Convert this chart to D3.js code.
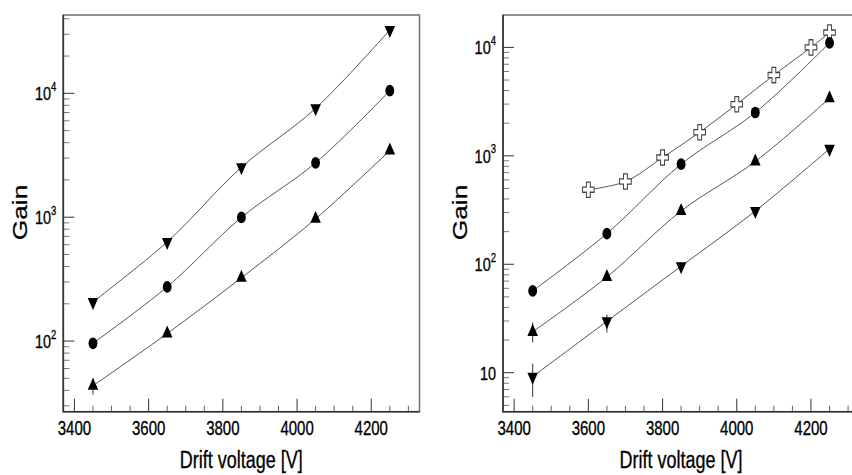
<!DOCTYPE html>
<html>
<head>
<meta charset="utf-8">
<script src="https://cdn.jsdelivr.net/npm/d3@7"></script>
<style>
body { margin: 0; background: #fff; }
svg { display: block; }
text { font-family: "Liberation Sans", Arial, sans-serif; fill: #000; stroke: #000; stroke-width: 0.25px; }
</style>
</head>
<body>
<div id="chart"></div>
<script>
// drift voltage of every scan point [V]
var voltages = [3450, 3650, 3850, 4050, 4250];
var crossVoltages = [3600, 3700, 3800, 3900, 4000, 4100, 4200, 4250];

// left panel gains
var leftDown = [207, 632, 2530, 7570, 32500];
var leftCircle = [96, 274, 995, 2750, 10500];
var leftUp = [43.6, 115, 324, 970, 3450];
var leftUpErr = [[37, 50], null, null, null, null];

// right panel gains
var rightCross = [487, 580, 965, 1650, 2990, 5560, 10000, 13700];
var rightCircle = [56.8, 192, 838, 2510, 11000];
var rightUp = [23.8, 76.4, 310, 887, 3400];
var rightUpErr = [[19, 29], [70, 83], null, null, null];
var rightDown = [9.2, 29.8, 96, 310, 1160];
var rightDownErr = [[6.0, 12.1], [23.4, 34.4], [89, 104], null, null];

var xDomain = [3370, 4330];
var xMajor = [3400, 3600, 3800, 4000, 4200];
var leftYDomain = [26.9, 42900];
var rightYDomain = [4.37, 19900];
var leftYLabels = [[100, "2"], [1000, "3"], [10000, "4"]];
var rightYLabels = [[10, ""], [100, "2"], [1000, "3"], [10000, "4"]];

var W = 852, H = 475;
var stretch = 1.32; // the picture is taller than wide, text looks stretched
var lineColor = "#555";
var frameColor = "#777";
var axisColor = "#333";

var svg = d3.select("#chart").append("svg").attr("width", W).attr("height", H);

function drawPanel(left, yDomain, yLabels, series) {
    var top = 15, bottom = 411.7, width = 356.2;
    var x = d3.scaleLinear().domain(xDomain).range([left, left + width]);
    var y = d3.scaleLog().domain(yDomain).range([bottom, top]);
    var g = svg.append("g");

    // x ticks, every 50 V, long ones every 200 V
    d3.range(3400, 4301, 50).forEach(function(v) {
        var major = xMajor.indexOf(v) >= 0;
        g.append("line").attr("x1", x(v)).attr("x2", x(v))
            .attr("y1", bottom).attr("y2", bottom - (major ? 13 : 6))
            .attr("stroke", major ? axisColor : "#666").attr("stroke-width", 1);
    });
    xMajor.forEach(function(v) {
        g.append("text")
            .attr("transform", "translate(" + x(v) + "," + 435 + ") scale(1," + stretch + ")")
            .attr("text-anchor", "middle")
            .attr("font-size", "15px")
            .text(v);
    });

    // y ticks, log decades
    var lo = Math.floor(Math.log10(yDomain[0])), hi = Math.ceil(Math.log10(yDomain[1]));
    for (var k = lo; k <= hi; k++) {
        for (var m = 1; m <= 9; m++) {
            var v = m * Math.pow(10, k);
            if (v < yDomain[0] || v > yDomain[1]) continue;
            g.append("line").attr("x1", left).attr("x2", left + (m == 1 ? 11 : 6))
                .attr("y1", y(v)).attr("y2", y(v))
                .attr("stroke", m == 1 ? axisColor : "#777").attr("stroke-width", 1);
        }
    }
    yLabels.forEach(function(d) {
        var t = g.append("text")
            .attr("transform", "translate(" + (left - 7) + "," + y(d[0]) + ") scale(1," + stretch + ")")
            .attr("text-anchor", "end")
            .attr("dy", "0.36em")
            .attr("font-size", "14.5px");
        t.append("tspan").text("10");
        if (d[1]) t.append("tspan").attr("font-size", "9.5px").attr("dy", "-0.75em").text(d[1]);
    });

    // frame: top and right in grey, axes darker
    g.append("rect").attr("x", left).attr("y", top)
        .attr("width", width).attr("height", bottom - top)
        .attr("fill", "none").attr("stroke", frameColor).attr("stroke-width", 1.6);
    g.append("path")
        .attr("d", "M" + left + "," + top + "V" + bottom + "H" + (left + width))
        .attr("fill", "none").attr("stroke", axisColor).attr("stroke-width", 1.6);

    // axis titles
    g.append("text")
        .attr("transform", "translate(" + (left + 178) + ",468) scale(1," + stretch + ")")
        .attr("text-anchor", "middle")
        .attr("font-size", "18px")
        .text("Drift voltage [V]");
    g.append("text")
        .attr("transform", "translate(" + (left - 36) + ",212.5) scale(1," + stretch + ") rotate(-90)")
        .attr("text-anchor", "middle")
        .attr("font-size", "20px")
        .attr("stroke-width", 0.5)
        .text("Gain");

    var line = d3.line()
        .x(function(d) { return x(d[0]); })
        .y(function(d) { return y(d[1]); })
        .curve(d3.curveCatmullRom.alpha(0.5));

    series.forEach(function(s) {
        var pts = s.v.map(function(v, i) { return [v, s.gain[i]]; });
        g.append("path").attr("d", line(pts))
            .attr("fill", "none").attr("stroke", lineColor).attr("stroke-width", 1);
        if (s.err) {
            s.err.forEach(function(e, i) {
                if (!e) return;
                g.append("line").attr("x1", x(s.v[i])).attr("x2", x(s.v[i]))
                    .attr("y1", y(e[0])).attr("y2", y(e[1]))
                    .attr("stroke", "#333").attr("stroke-width", 1);
            });
        }
        var sym = d3.symbol().type(s.type).size(s.size);
        g.selectAll(null).data(pts).enter().append("path")
            .attr("d", sym)
            .attr("transform", function(d) {
                return "translate(" + x(d[0]) + "," + y(d[1]) + ") scale(1," + stretch + ")" + (s.flip ? " rotate(180)" : "");
            })
            .attr("fill", s.open ? "#fff" : "#000")
            .attr("stroke", s.open ? "#444" : "none")
            .attr("stroke-width", 1);
    });
}

drawPanel(63.3, leftYDomain, leftYLabels, [
    { v: voltages, gain: leftDown, type: d3.symbolTriangle, size: 48, flip: true },
    { v: voltages, gain: leftCircle, type: d3.symbolCircle, size: 62 },
    { v: voltages, gain: leftUp, type: d3.symbolTriangle, size: 48, err: leftUpErr }
]);

drawPanel(503, rightYDomain, rightYLabels, [
    { v: crossVoltages, gain: rightCross, type: d3.symbolCross, size: 75, open: true },
    { v: voltages, gain: rightCircle, type: d3.symbolCircle, size: 62 },
    { v: voltages, gain: rightUp, type: d3.symbolTriangle, size: 48, err: rightUpErr },
    { v: voltages, gain: rightDown, type: d3.symbolTriangle, size: 48, flip: true, err: rightDownErr }
]);
</script>
</body>
</html>
